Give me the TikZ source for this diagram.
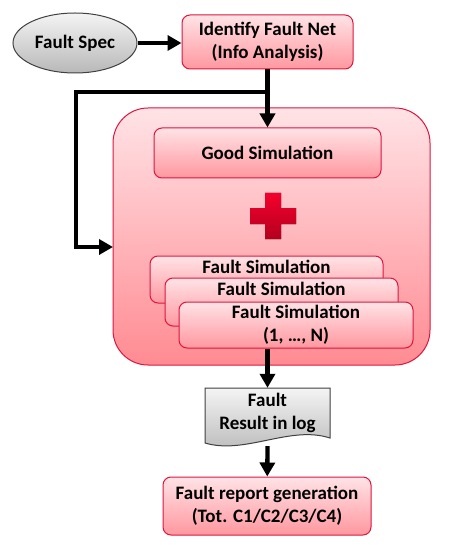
\documentclass[tikz,border=0pt]{standalone}
\usepackage{fontspec}
\setmainfont{Carlito}
\usetikzlibrary{arrows.meta,shapes.geometric}
\definecolor{pinktop}{HTML}{FFE3E6}
\definecolor{pinkbot}{HTML}{FF979F}
\definecolor{pinkline}{HTML}{E0143C}
\definecolor{graytop}{HTML}{F4F4F4}
\definecolor{graybot}{HTML}{B8B8B8}
\definecolor{crossred}{HTML}{F5002C}
\definecolor{crossdark}{HTML}{B3001F}
\begin{document}
\begin{tikzpicture}[x=1pt,y=-1pt,
txt/.style={font=\fontsize{19}{23}\selectfont\bfseries,align=center,inner sep=0pt},
box/.style={txt,draw=pinkline,line width=1,rounded corners=8,top color=pinktop,bottom color=pinkbot},
grey/.style={txt,draw=black!75,line width=1,top color=graytop,bottom color=graybot},
arr/.style={line width=4.3,-{Triangle[length=14pt,width=15pt]}}]
\useasboundingbox(0,0)rectangle(459,545);
\node[box,rounded corners=35,minimum width=317,minimum height=257,top color=pinktop,bottom color=pinkbot!92!red](sim)at(271.5,236.5){};
\node[grey,ellipse,minimum width=124,minimum height=60](spec)at(75,43){Fault Spec};
\node[box,minimum width=171,minimum height=54](ident)at(267.5,42){Identify Fault Net\\(Info Analysis)};
\node[box,minimum width=227,minimum height=50](good)at(267.5,153){Good Simulation};
\fill[top color=crossred,bottom color=crossdark](265,193)--(281,193)--(281,208)--(296,208)--(296,224)--(281,224)--(281,239)--(265,239)--(265,224)--(250,224)--(250,208)--(265,208)--cycle;
\node[box,minimum width=233,minimum height=47](fs1)at(266.5,279.5){Fault Simulation\\\phantom{(1)}};
\node[box,minimum width=233,minimum height=48](fs2)at(281.5,302){Fault Simulation\\\phantom{(1)}};
\node[box,minimum width=234,minimum height=46](fs3)at(296,325){Fault Simulation\\(1, …, N)};
\path[grey](205,388)--(330,388)--(330,438)..controls(290,425)and(245,455)..(205,443)--cycle;
\node[txt,minimum width=125,minimum height=50](log)at(267.5,413){Fault\\Result in log};
\node[box,minimum width=208,minimum height=58](report)at(267,506){Fault report generation\\(Tot. C1/C2/C3/C4)};
\coordinate(split)at(267.5,92);
\coordinate(bend)at(76,92);
\coordinate(entry)at(113,247);
\draw[arr](spec)--(spec-|ident.west);
\draw[arr](ident)--(good);
\draw[arr](split)--(bend)|-(entry);
\draw[arr](log.north|-fs3.south)--(log.north);
\draw[arr]([yshift=-8pt]log.south)--(report);
\end{tikzpicture}
\end{document}
